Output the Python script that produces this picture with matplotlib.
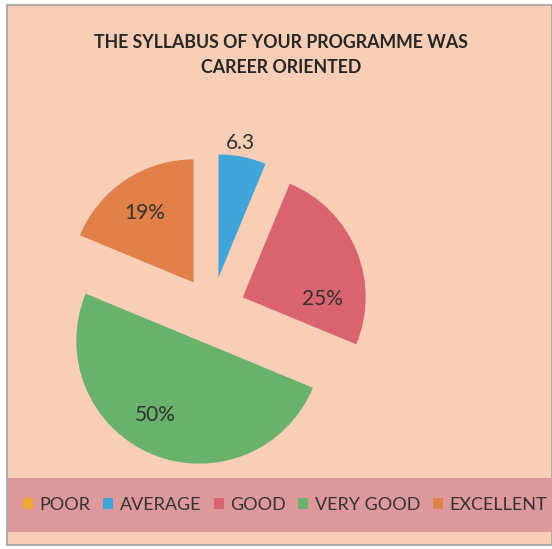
import numpy as np
import matplotlib
matplotlib.use("Agg")
import matplotlib.pyplot as plt
from matplotlib.patches import Rectangle

plt.rcParams["font.family"] = ["Lato", "DejaVu Sans"]

# data
categories = ["POOR", "AVERAGE", "GOOD", "VERY GOOD", "EXCELLENT"]
values = [0, 6.25, 25, 50, 18.75]
value_labels = ["", "6.3", "25%", "50%", "19%"]
colors = ["#f0a830", "#40a4d8", "#d9646f", "#68b26c", "#e2804a"]

# label placement per slice: (distance in radii, angle shift in degrees)
label_place = [(0, 0), (1.11, 2), (0.65, -24), (0.70, -8), (0.69, 1)]

W, H = 552, 549
fig = plt.figure(figsize=(W / 100, H / 100), dpi=100)
fig.patch.set_facecolor("white")

# page background and border
fig.patches.append(Rectangle((7 / W, 4 / H), 545 / W, 540 / H, transform=fig.transFigure,
                             facecolor="#f8cfb6", edgecolor="#a0a0a0", linewidth=1.2, zorder=-10))
# legend band
fig.patches.append(Rectangle((7.5 / W, 17 / H), 544 / W, 54 / H, transform=fig.transFigure,
                             facecolor="#dc989b", edgecolor="none", zorder=-9))

fig.text(281 / W, 1 - 42 / H, "THE SYLLABUS OF YOUR PROGRAMME WAS", ha="center", va="center",
         fontsize=12.8, fontweight="bold", color="#262626")
fig.text(281 / W, 1 - 67 / H, "CAREER ORIENTED", ha="center", va="center",
         fontsize=12.8, fontweight="bold", color="#262626")

# pie axes: centre at (212, 310) px, radius 123 px
R = 123
half = 200
cx, cy = 212, 310
ax = fig.add_axes([(cx - half) / W, (H - cy - half) / H, 2 * half / W, 2 * half / H])
ax.set_facecolor("none")

wedges, _ = ax.pie(values, colors=colors, startangle=90, counterclock=False,
                   explode=[0.27] * len(values), radius=1,
                   wedgeprops=dict(linewidth=0))
ax.set_xlim(-half / R, half / R)
ax.set_ylim(-half / R, half / R)
ax.set_aspect("equal")
ax.axis("off")

for w, lab, (dist, shift) in zip(wedges, value_labels, label_place):
    if not lab:
        continue
    theta = np.deg2rad((w.theta1 + w.theta2) / 2 + shift)
    x0, y0 = w.center
    ax.text(x0 + dist * w.r * np.cos(theta), y0 + dist * w.r * np.sin(theta), lab,
            ha="center", va="center", fontsize=15, color="#333333")

handles = [Rectangle((0, 0), 1, 1, facecolor=c, edgecolor="none") for c in colors]
fig.legend(handles, categories, loc="center", bbox_to_anchor=(285 / W, 1 - 505 / H),
           ncol=5, frameon=False, fontsize=13, handlelength=0.55, handleheight=0.55,
           handletextpad=0.35, columnspacing=0.7, labelcolor="#333333",
           borderpad=0, borderaxespad=0)

fig.savefig("out.png", dpi=100, facecolor=fig.get_facecolor())
